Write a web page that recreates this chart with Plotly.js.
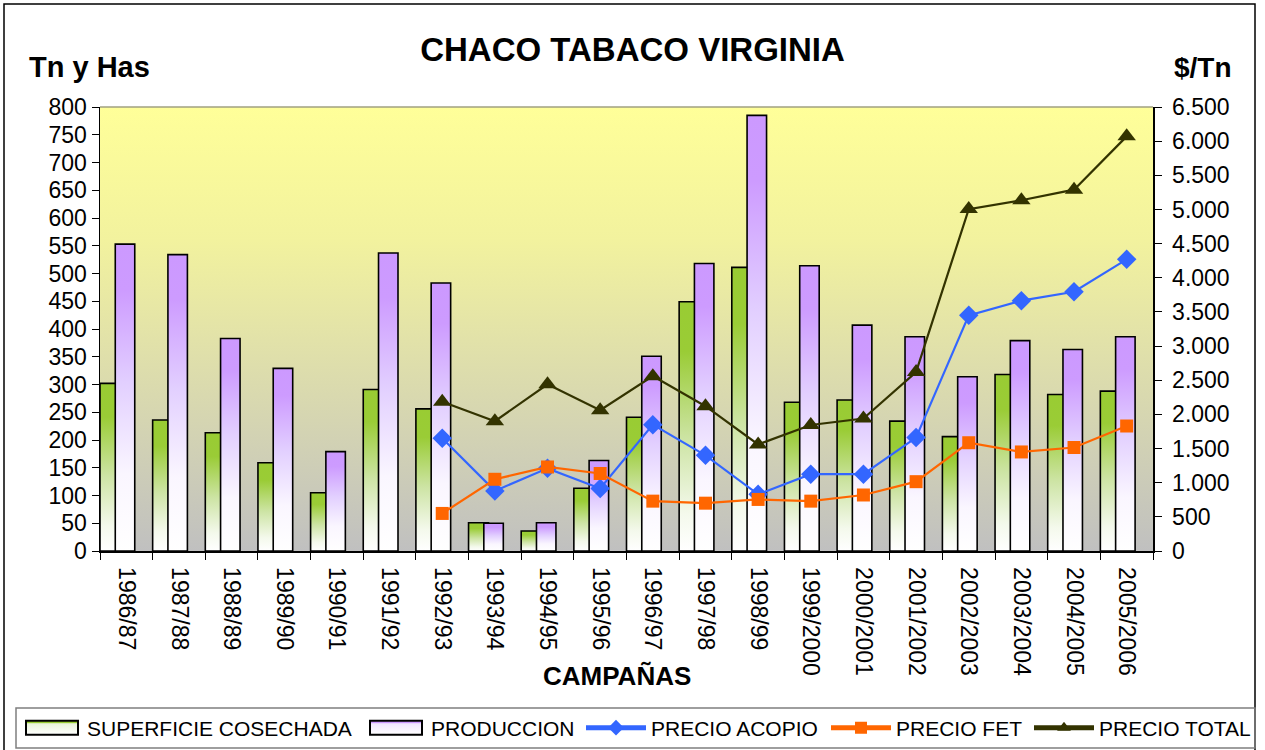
<!DOCTYPE html>
<html><head><meta charset="utf-8">
<script src="https://cdn.plot.ly/plotly-3.0.1.min.js"></script>
<style>html,body{margin:0;padding:0;background:#fff}#chart{width:1265px;height:750px}</style>
</head><body><div id="chart"></div>
<script>
const campanas = ['1986/87','1987/88','1988/89','1989/90','1990/91','1991/92','1992/93','1993/94','1994/95','1995/96','1996/97','1997/98','1998/99','1999/2000','2000/2001','2001/2002','2002/2003','2003/2004','2004/2005','2005/2006'];
const superficie = [302,236,213,159,105,291,256,51,36,113,241,449,511,268,272,234,206,318,282,288];
const produccion = [553,534,383,329,179,537,483,50,51,163,351,518,785,514,407,386,314,379,363,386];
const precioAcopio = [null,null,null,null,null,null,1650,880,1210,915,1850,1400,830,1125,1125,1660,3450,3665,3795,4270];
const precioFet = [null,null,null,null,null,null,550,1050,1230,1135,730,700,755,730,820,1015,1585,1450,1515,1830];
const precioTotal = [null,null,null,null,null,null,2185,1900,2440,2060,2560,2120,1560,1845,1940,2620,5005,5135,5290,6070];
const seriesNames = ['SUPERFICIE COSECHADA','PRODUCCION','PRECIO ACOPIO','PRECIO FET','PRECIO TOTAL'];

const FONT = 'Liberation Sans, Arial, sans-serif';
const L = 100, R = 1153, T = 107, B = 551;
const px2x = p => (p - L) / (R - L);
const px2y = p => (B - p) / (B - T);

const traces = [
  {type:'bar', name:seriesNames[0], legend:'legend', showlegend:true, x:campanas, y:superficie, offset:-0.5, width:0.38,
   marker:{color:'#99CC33', line:{color:'#000', width:1.6}}},
  {type:'bar', name:seriesNames[1], legend:'legend2', showlegend:true, x:campanas, y:produccion, offset:-0.21, width:0.37,
   marker:{color:'#CC99FF', line:{color:'#000', width:1.6}}},
  {type:'scatter', mode:'lines+markers', name:seriesNames[2], legend:'legend3', showlegend:true, x:campanas, y:precioAcopio, yaxis:'y2',
   line:{color:'#3366FF', width:2.2}, marker:{symbol:'diamond', size:15, color:'#3366FF'}},
  {type:'scatter', mode:'lines+markers', name:seriesNames[3], legend:'legend4', showlegend:true, x:campanas, y:precioFet, yaxis:'y2',
   line:{color:'#FF6600', width:2.2}, marker:{symbol:'square', size:13, color:'#FF6600'}},
  {type:'scatter', mode:'lines+markers', name:seriesNames[4], legend:'legend5', showlegend:true, x:campanas, y:precioTotal, yaxis:'y2',
   line:{color:'#333300', width:2.2}, marker:{symbol:'triangle-up', size:16, color:'#333300'}}
];

function legendAt(textStartPx){
  return {orientation:'h', xref:'container', yref:'container', x:(textStartPx-71)/1265, xanchor:'left',
          y:1-728/750, yanchor:'middle', font:{family:FONT, size:21, color:'#000'}, itemwidth:60,
          bgcolor:'rgba(0,0,0,0)', borderwidth:0, itemsizing:'constant', visible:true};
}

const layout = {
  width:1265, height:750,
  showlegend:true,
  margin:{l:L, r:1265-R, t:T, b:750-B, pad:0, autoexpand:false},
  paper_bgcolor:'#FFFFFF', plot_bgcolor:'#E0E0A8',
  separators:',.',
  barmode:'overlay', hovermode:false,
  font:{family:FONT, color:'#000'},
  title:{text:'<b>CHACO TABACO VIRGINIA</b>', font:{family:FONT, size:33, color:'#000'},
         x:0.5, xanchor:'center', xref:'container', y:1-49/750, yanchor:'middle'},
  xaxis:{type:'category', range:[-0.5,19.5], tickson:'boundaries', ticks:'outside', ticklen:7,
         tickcolor:'#000', tickwidth:1, showline:true, linecolor:'#000', linewidth:1.5, automargin:false,
         tickangle:90, ticklabelstandoff:10, tickfont:{family:FONT, size:23, color:'#000'}, showgrid:false, fixedrange:true},
  yaxis:{range:[0,800], tick0:0, dtick:50, ticks:'outside', ticklen:7, tickcolor:'#000', automargin:false,
         showline:true, linecolor:'#000', linewidth:1.5, showgrid:false, zeroline:false,
         tickfont:{family:FONT, size:23, color:'#000'}, fixedrange:true},
  yaxis2:{overlaying:'y', side:'right', range:[0,6500], tick0:0, dtick:500, tickformat:',d', automargin:false,
          ticks:'outside', ticklen:7, tickcolor:'#000', showline:true, linecolor:'#000', linewidth:1.5,
          ticklabelstandoff:6,
          showgrid:false, zeroline:false, tickfont:{family:FONT, size:23, color:'#000'}, fixedrange:true},
  legend:legendAt(88),
  legend2:legendAt(432),
  legend3:legendAt(652),
  legend4:legendAt(897),
  legend5:legendAt(1100),
  annotations:[
    {text:'<b>Tn y Has</b>', xref:'paper', yref:'paper', x:px2x(27), y:px2y(67), xanchor:'left', yanchor:'middle',
     showarrow:false, font:{family:FONT, size:29, color:'#000'}},
    {text:'<b>$/Tn</b>', xref:'paper', yref:'paper', x:px2x(1234), y:px2y(67), xanchor:'right', yanchor:'middle',
     showarrow:false, font:{family:FONT, size:28, color:'#000'}},
    {text:'<b>CAMPAÑAS</b>', xref:'paper', yref:'paper', x:px2x(617), y:px2y(676), xanchor:'center', yanchor:'middle',
     showarrow:false, font:{family:FONT, size:26, color:'#000'}}
  ],
  shapes:[
    {type:'rect', xref:'paper', yref:'paper', x0:px2x(4), x1:px2x(1255), y0:px2y(770), y1:px2y(4),
     line:{color:'#000', width:1.5}, fillcolor:'rgba(0,0,0,0)', layer:'above'},
    {type:'rect', xref:'paper', yref:'paper', x0:px2x(16), x1:px2x(1255), y0:px2y(748), y1:px2y(708),
     line:{color:'#7f7f7f', width:1.5}, fillcolor:'rgba(0,0,0,0)', layer:'above'},
    {type:'line', xref:'paper', yref:'paper', x0:0, x1:1, y0:1, y1:1, line:{color:'#A0A080', width:1.5}, layer:'above'}
  ]
};

function addGrad(defs, id, stops){
  const ns = 'http://www.w3.org/2000/svg';
  const g = document.createElementNS(ns, 'linearGradient');
  g.setAttribute('id', id); g.setAttribute('x1','0'); g.setAttribute('y1','0');
  g.setAttribute('x2','0'); g.setAttribute('y2','1');
  stops.forEach(([o,c]) => {
    const s = document.createElementNS(ns, 'stop');
    s.setAttribute('offset', o); s.setAttribute('stop-color', c);
    g.appendChild(s);
  });
  defs.appendChild(g);
}

function applyGradients(gd){
  const svg = gd.querySelector('svg.main-svg');
  let defs = svg.querySelector('defs');
  if(!defs){ defs = document.createElementNS('http://www.w3.org/2000/svg','defs'); svg.insertBefore(defs, svg.firstChild); }
  addGrad(defs, 'gBg', [[0,'#FFFF99'],[0.3,'#F2F29E'],[1,'#C0C0C0']]);
  addGrad(defs, 'gGreen', [[0,'#99CC33'],[0.2,'#9ACC36'],[0.55,'#CDE4A4'],[0.85,'#F4F9EC'],[1,'#FFFFFF']]);
  addGrad(defs, 'gPurple', [[0,'#CC99FF'],[0.15,'#CD9BFF'],[0.45,'#E2CFFF'],[0.75,'#FAF6FF'],[1,'#FFFFFF']]);
  addGrad(defs, 'gGreenL', [[0,'#99CC33'],[0.14,'#99CC33'],[0.22,'#EAF4DA'],[1,'#FFFFFF']]);
  addGrad(defs, 'gPurpleL', [[0,'#CC99FF'],[0.14,'#CC99FF'],[0.22,'#F1E6FF'],[1,'#FFFFFF']]);
  const bg = gd.querySelector('.bglayer rect.bg');
  if(bg) bg.style.fill = 'url(#gBg)';
  const barTraces = gd.querySelectorAll('.barlayer .trace');
  const ids = ['gGreen','gPurple'];
  barTraces.forEach((t,i) => { t.querySelectorAll('path').forEach(p => { p.style.fill = 'url(#'+ids[i]+')'; }); });
  const legendClasses = ['legend','legend2'];
  const lids = ['gGreenL','gPurpleL'];
  legendClasses.forEach((cls,i) => {
    gd.querySelectorAll('g.' + cls + ' .traces .legendpoints path').forEach(p => {
      p.style.fill = 'url(#'+lids[i]+')';
      p.style.strokeWidth = '2px';
      p.setAttribute('d','M26,7H-26V-7H26Z');
    });
  });
}

Plotly.newPlot('chart', traces, layout, {staticPlot:true, displayModeBar:false}).then(applyGradients);
</script></body></html>
